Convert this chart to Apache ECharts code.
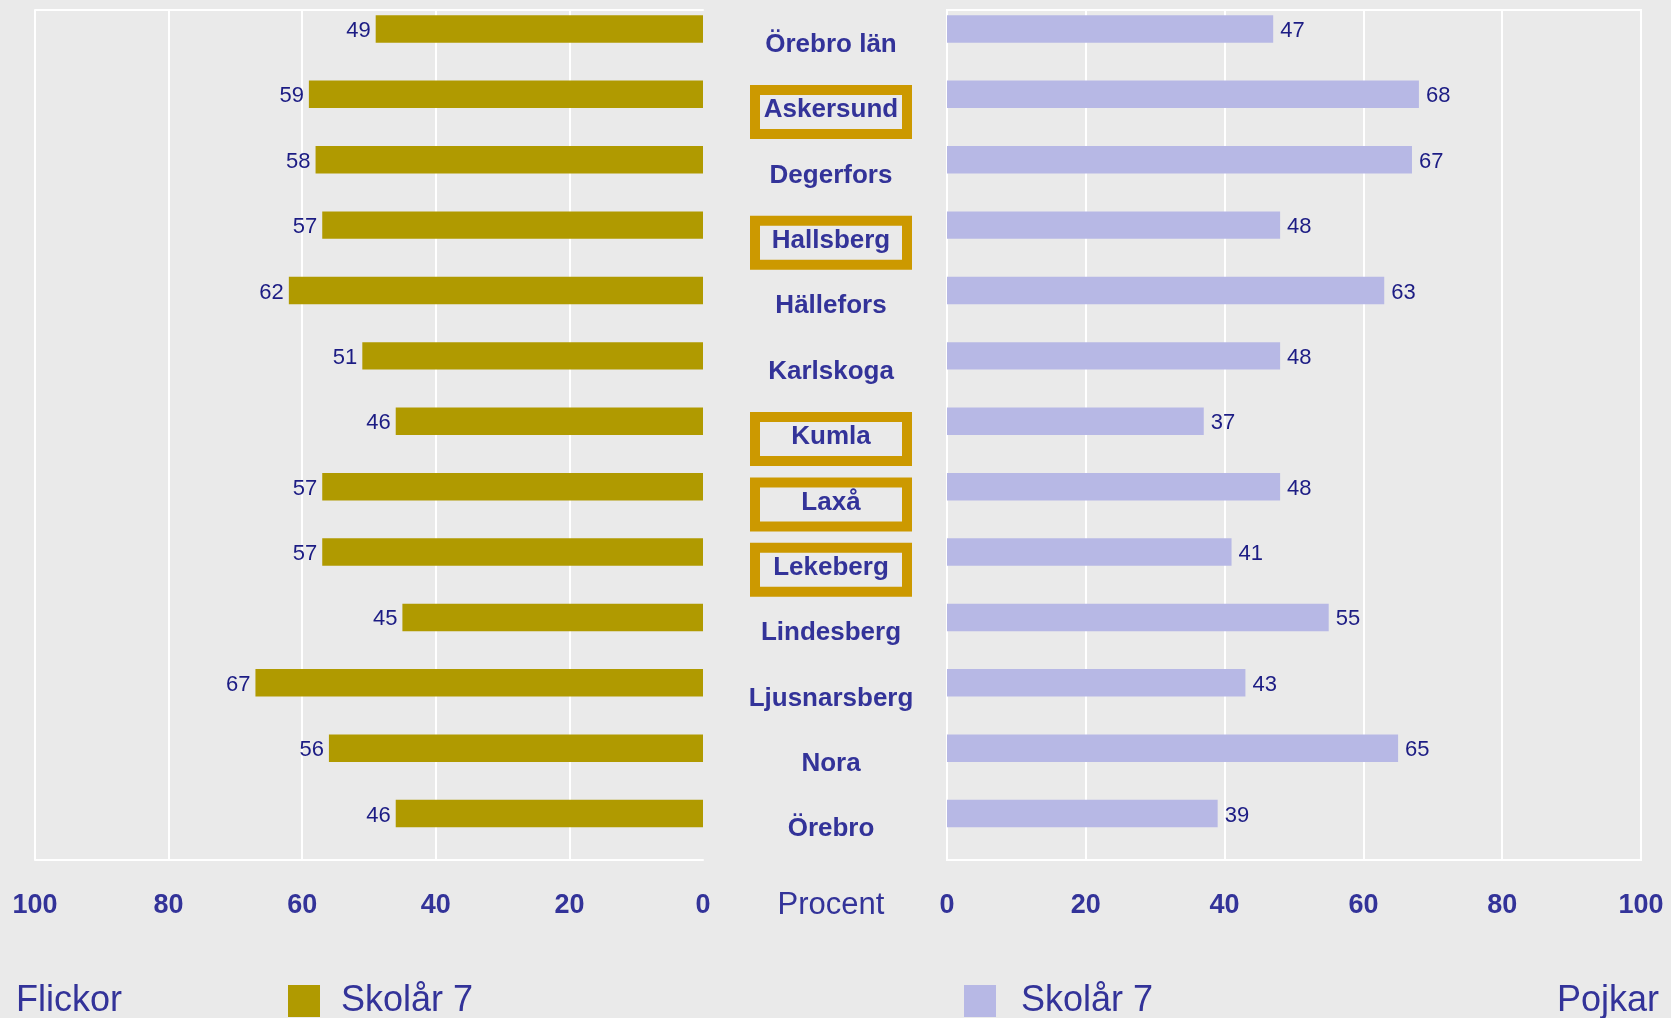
<!DOCTYPE html>
<html><head><meta charset="utf-8">
<script src="https://cdn.jsdelivr.net/npm/echarts@6/dist/echarts.min.js"></script>
<style>html,body{margin:0;padding:0;background:#EAEAEA}#c{width:1671px;height:1018px}</style>
</head><body><div id="c"></div>
<script>
const categories = ['Örebro län','Askersund','Degerfors','Hallsberg','Hällefors','Karlskoga','Kumla','Laxå','Lekeberg','Lindesberg','Ljusnarsberg','Nora','Örebro'];
const girls = [49,59,58,57,62,51,46,57,57,45,67,56,46];
const boys  = [47,68,67,48,63,48,37,48,41,55,43,65,39];
const highlighted = ['Askersund','Hallsberg','Kumla','Laxå','Lekeberg'];
const seriesGirls = 'Flickor Skolår 7';
const seriesBoys = 'Pojkar Skolår 7';
const legendLabel = 'Skolår 7';
const axisTitle = 'Procent';
const leftTitle = 'Flickor';
const rightTitle = 'Pojkar';

const FONT = '"Liberation Sans", Arial, sans-serif';
const TXT = '#333399';
const VAL = '#1c1c84';
const white = {color:'#ffffff', width:2};

const chart = echarts.init(document.getElementById('c'), null, {renderer:'canvas'});
const valueAxisLabel = {fontFamily:FONT, fontSize:27, fontWeight:'bold', color:TXT, margin:32};

chart.setOption({
  backgroundColor:'#EAEAEA',
  animation:false,
  title:[
    {text:leftTitle, left:16, top:983, padding:0, textStyle:{fontFamily:FONT, fontSize:36, fontWeight:'normal', color:TXT}},
    {text:rightTitle, right:12, top:983, padding:0, textStyle:{fontFamily:FONT, fontSize:36, fontWeight:'normal', color:TXT}}
  ],
  legend:[
    {data:[seriesGirls], left:288, top:983, padding:0, icon:'rect', itemWidth:32, itemHeight:32,
     formatter:()=>legendLabel, textStyle:{fontFamily:FONT, fontSize:36, color:TXT, padding:[0,0,0,16]}},
    {data:[seriesBoys], left:964, top:983, padding:0, icon:'rect', itemWidth:32, itemHeight:32,
     formatter:()=>legendLabel, textStyle:{fontFamily:FONT, fontSize:36, color:TXT, padding:[0,0,0,20]}}
  ],
  graphic:[
    {type:'text', x:831, y:905, style:{text:axisTitle, font:'31px "Liberation Sans", Arial, sans-serif', fill:TXT, align:'center', verticalAlign:'middle'}}
  ],
  grid:[
    {left:35, top:10, width:668, height:850},
    {left:947, top:10, width:694, height:850, show:true, borderColor:'#ffffff', borderWidth:2, backgroundColor:'transparent'}
  ],
  xAxis:[
    {gridIndex:0, type:'value', inverse:true, min:0, max:100, interval:20, position:'bottom',
     axisLine:{show:true, lineStyle:white}, axisTick:{show:false}, axisLabel:valueAxisLabel,
     splitLine:{show:true, showMinLine:false, lineStyle:white}},
    {gridIndex:0, type:'value', inverse:true, min:0, max:100, interval:20, position:'top',
     axisLine:{show:true, lineStyle:white}, axisTick:{show:false}, axisLabel:{show:false}, splitLine:{show:false}},
    {gridIndex:1, type:'value', min:0, max:100, interval:20, position:'bottom',
     axisLine:{show:false}, axisTick:{show:false}, axisLabel:valueAxisLabel,
     splitLine:{show:true, lineStyle:white}}
  ],
  yAxis:[
    {gridIndex:0, type:'category', data:categories, inverse:true, position:'right',
     axisLine:{show:false}, axisTick:{show:false}, splitLine:{show:false},
     axisLabel:{margin:128, align:'center', padding:[8,0,0,0], fontFamily:FONT, fontSize:26, fontWeight:'bold', color:TXT,
       formatter:v => highlighted.includes(v) ? `{box|${v}}` : `{n|${v}}`,
       rich:{
         n:{fontFamily:FONT, fontSize:26, fontWeight:'bold', color:TXT, padding:[0,0,4,0]},
         box:{fontFamily:FONT, fontSize:26, fontWeight:'bold', color:TXT, borderColor:'#CC9900', borderWidth:10,
              width:140, lineHeight:31, align:'center', padding:[7,6,11,6]}
       }}},
    {gridIndex:1, type:'category', data:categories, inverse:true, show:false}
  ],
  series:[
    {type:'bar', name:seriesGirls, xAxisIndex:0, yAxisIndex:0, data:girls, barGap:'0%', barCategoryGap:'16%',
     itemStyle:{color:'#B09A00'},
     label:{show:true, position:'left', distance:5, offset:[0,2], fontFamily:FONT, fontSize:22, color:VAL}},
    {type:'bar', name:'g2', xAxisIndex:0, yAxisIndex:0, data:[], barGap:'0%', barCategoryGap:'16%'},
    {type:'bar', name:seriesBoys, xAxisIndex:2, yAxisIndex:1, data:boys, barGap:'0%', barCategoryGap:'16%',
     itemStyle:{color:'#B7B8E5'},
     label:{show:true, position:'right', distance:7, offset:[0,2], fontFamily:FONT, fontSize:22, color:VAL}},
    {type:'bar', name:'b2', xAxisIndex:2, yAxisIndex:1, data:[], barGap:'0%', barCategoryGap:'16%'}
  ]
});
</script></body></html>
